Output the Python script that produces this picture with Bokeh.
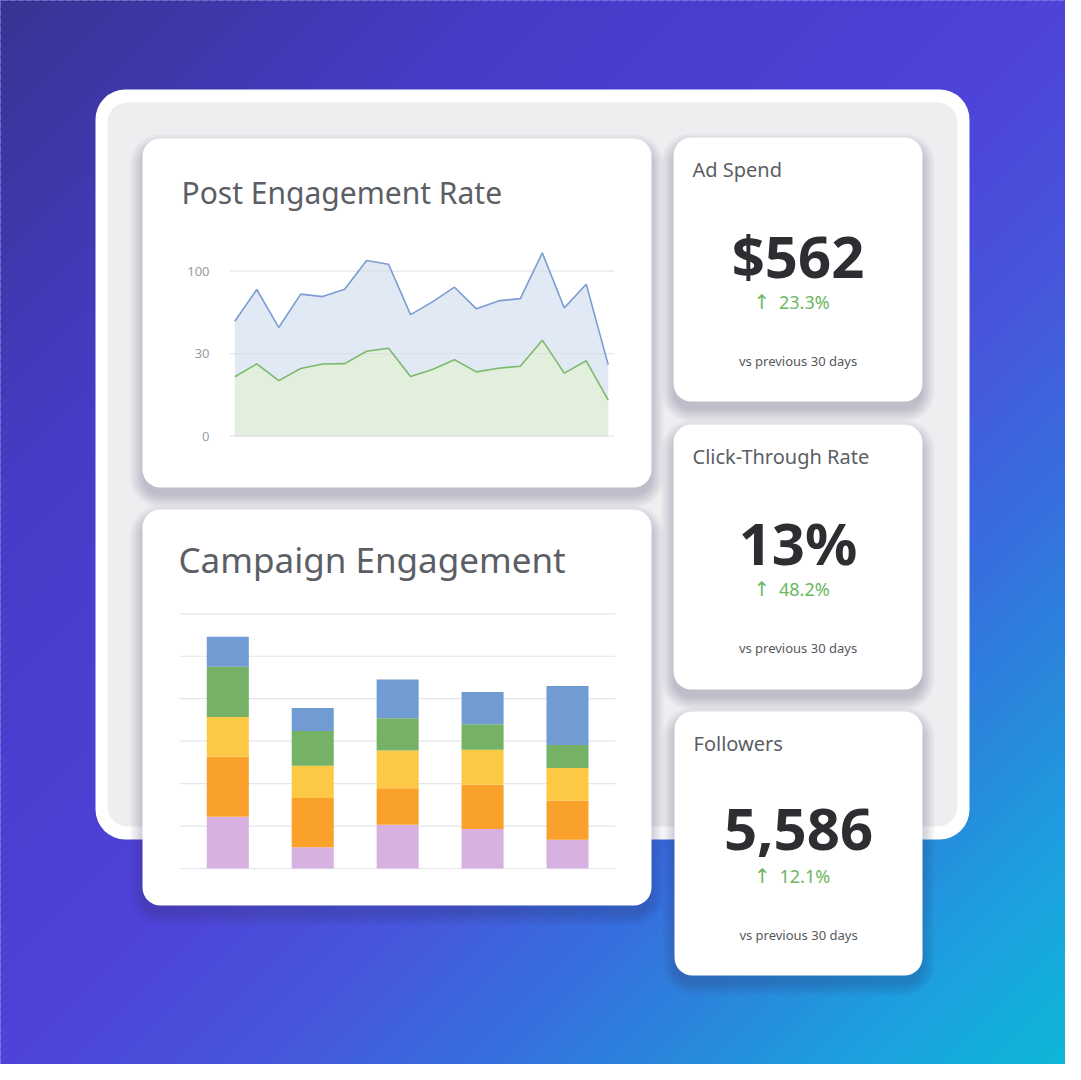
from bokeh.plotting import figure
from bokeh.models import Range1d, ColumnDataSource
from bokeh.core.properties import value
from bokeh.embed import file_html
from bokeh.resources import INLINE

# ---------------- data ----------------
LINE_DAYS = list(range(1, 19))
REACH = [69.7, 88.9, 65.9, 86.1, 84.6, 89.1, 106.5, 104.2, 73.7, 81.4,
         90.3, 77.2, 82.0, 83.4, 111.1, 77.8, 92.1, 43.4]
ENGAGED = [36.0, 43.8, 33.7, 41.0, 43.8, 44.0, 51.5, 53.3, 36.2, 40.4,
           46.3, 39.0, 41.2, 42.4, 58.2, 38.2, 45.7, 21.8]
LINE_TICKS = [0, 50, 100]
LINE_TICK_LABELS = ["0", "30", "100"]

CAMPAIGNS = ["Campaign 1", "Campaign 2", "Campaign 3", "Campaign 4", "Campaign 5"]
SEG_LILAC = [12.2, 5.0, 10.3, 9.3, 6.8]
SEG_ORANGE = [14.1, 11.6, 8.6, 10.4, 9.2]
SEG_YELLOW = [9.4, 7.6, 8.9, 8.3, 7.7]
SEG_GREEN = [11.8, 8.2, 7.6, 6.0, 5.4]
SEG_BLUE = [7.1, 5.4, 9.1, 7.6, 13.9]
BAR_TICKS = [0, 10, 20, 30, 40, 50, 60]

KPI_TITLES = ["Ad Spend", "Click-Through Rate", "Followers"]
KPI_VALUES = ["$562", "13%", "5,586"]
KPI_CHANGES = ["23.3%", "48.2%", "12.1%"]
KPI_ARROW = "\u2191"
KPI_NOTE = "vs previous 30 days"

TITLE_LINE = "Post Engagement Rate"
TITLE_BARS = "Campaign Engagement"

# ---------------- canvas ----------------
W, H, OFF = 1065, 1064, 8
FX0, FX1 = OFF, OFF + W      # frame in reference pixels
FY_BOT, FY_TOP = OFF + H, OFF

p = figure(width=W, height=H, x_range=Range1d(FX0, FX1), y_range=Range1d(FY_BOT, FY_TOP),
           output_backend="svg", toolbar_location=None, min_border=0,
           x_axis_location=None, y_axis_location=None)
p.grid.visible = False
p.outline_line_color = None
p.background_fill_color = "#4a42d6"
p.border_fill_color = "white"

FONT = value("Noto Sans")

# background diagonal gradient
STOPS = [(0.0, (55, 52, 145)), (0.25, (70, 60, 200)), (0.5, (78, 66, 216)),
         (0.63, (70, 88, 220)), (0.72, (55, 110, 222)), (0.80, (42, 133, 220)),
         (0.89, (29, 159, 224)), (1.0, (12, 184, 212))]


def grad(t):
    t = max(0.0, min(1.0, t))
    for (t0, c0), (t1, c1) in zip(STOPS[:-1], STOPS[1:]):
        if t <= t1:
            f = (t - t0) / (t1 - t0)
            return "#%02x%02x%02x" % tuple(int(round(a + (b - a) * f)) for a, b in zip(c0, c1))
    return "#%02x%02x%02x" % STOPS[-1][1]


bxs, bys, bcol = [], [], []
STEP = 8
for c in range(-16, 2200, STEP):
    bxs.append([c + 60, c + STEP + 60, c + STEP - 1160, c - 1160])
    bys.append([-60, -60, 1160, 1160])
    bcol.append(grad((c + STEP / 2) / 2160))
p.patches(bxs, bys, fill_color=bcol, line_color=bcol, line_width=1)

# outer container
p.quad(left=103, right=977, top=97, bottom=847, border_radius=30,
       fill_color="white", line_color=None)
p.quad(left=115, right=965, top=110, bottom=834, border_radius=20,
       fill_color="#eeeef0", line_color=None)


def card(l, t, r, b, radius=18):
    dy = 8
    for s in range(12, -1, -2):
        p.quad(left=l - s, right=r + s, top=t + dy - s, bottom=b + dy + s,
               border_radius=radius + s, fill_color="#2a2a5e", fill_alpha=0.04,
               line_color=None)
    p.quad(left=l, right=r, top=t, bottom=b, border_radius=radius,
           fill_color="white", line_color=None)


LINE_CARD = (150, 146, 659, 495)
BAR_CARD = (150, 517, 659, 913)
KPI_CARDS = [(681, 145, 930, 409), (681, 432, 930, 697), (682, 719, 930, 983)]

for c in [LINE_CARD, BAR_CARD] + KPI_CARDS:
    card(*c)


# helper: range such that pixel p0 -> v0 and p1 -> v1 across the frame
def inset_range(p0, v0, p1, v1, f_start, f_end):
    k = (v1 - v0) / (p1 - p0)
    return Range1d(start=v0 + (f_start - p0) * k, end=v0 + (f_end - p0) * k)


# ---------------- line chart ----------------
p.extra_x_ranges["lx"] = inset_range(242.3, LINE_DAYS[0], 615.7, LINE_DAYS[-1], FX0, FX1)
p.extra_y_ranges["ly"] = inset_range(443.7, 0, 278.7, 100, FY_BOT, FY_TOP)

lsrc = ColumnDataSource(dict(x=LINE_DAYS, reach=REACH, eng=ENGAGED))
p.varea(x="x", y1=0, y2="reach", source=lsrc, fill_color="#7c9fd4", fill_alpha=0.23,
        x_range_name="lx", y_range_name="ly")
p.varea(x="x", y1=0, y2="eng", source=lsrc, fill_color="#e2efdc", fill_alpha=1.0,
        x_range_name="lx", y_range_name="ly")
p.segment(x0=237, x1=622, y0=LINE_TICKS, y1=LINE_TICKS, line_color="#d5dbe6",
          line_alpha=0.7, line_width=1.2, y_range_name="ly")
p.line(x="x", y="reach", source=lsrc, line_color="#7b9dd2", line_width=1.6,
       x_range_name="lx", y_range_name="ly")
p.line(x="x", y="eng", source=lsrc, line_color="#7db96d", line_width=1.6,
       x_range_name="lx", y_range_name="ly")
p.text(x=[217] * len(LINE_TICKS), y=LINE_TICKS, text=LINE_TICK_LABELS, y_range_name="ly",
       text_font=FONT, text_font_size="13px", text_color="#9a9ca2",
       text_align="right", text_baseline="middle")
p.text(x=[189], y=[200], text=[TITLE_LINE], text_font=FONT, text_font_size="30px",
       text_color="#5b5e64", text_align="left", text_baseline="middle")

# ---------------- stacked bars ----------------
BAR_POS = list(range(len(CAMPAIGNS)))
p.extra_x_ranges["bx"] = inset_range(235.3, BAR_POS[0], 575.0, BAR_POS[-1], FX0, FX1)
p.extra_y_ranges["by"] = inset_range(876.0, 0, 621.3, 60, FY_BOT, FY_TOP)

p.segment(x0=187, x1=623, y0=BAR_TICKS, y1=BAR_TICKS, line_color="#e4e6ec",
          line_width=1.2, y_range_name="by")
bsrc = ColumnDataSource(dict(x=BAR_POS, lilac=SEG_LILAC, orange=SEG_ORANGE,
                             yellow=SEG_YELLOW, green=SEG_GREEN, blue=SEG_BLUE))
p.vbar_stack(["lilac", "orange", "yellow", "green", "blue"], x="x", width=0.495,
             fill_color=["#d7b1e0", "#f9a12a", "#fdc843", "#76b266", "#709bd3"],
             line_color=None, source=bsrc, x_range_name="bx", y_range_name="by")
p.text(x=[186], y=[567], text=[TITLE_BARS], text_font=FONT, text_font_size="35px",
       text_color="#5b5e64", text_align="left", text_baseline="middle")

# ---------------- KPI cards ----------------
tx, ty, cx, vy, chy, ny, ax, nx = [], [], [], [], [], [], [], []
for (l, t, r, b) in KPI_CARDS:
    tx.append(l + 19)
    ty.append(t + 32)
    cx.append((l + r) / 2)
    vy.append(t + 118)
    chy.append(t + 164)
    ny.append(t + 223)
    ax.append((l + r) / 2 - 36)
    nx.append((l + r) / 2 - 19)

p.text(x=tx, y=ty, text=KPI_TITLES, text_font=FONT, text_font_size="20px",
       text_color="#5b5e64", text_align="left", text_baseline="middle")
p.text(x=cx, y=vy, text=KPI_VALUES, text_font=FONT, text_font_size="58px",
       text_font_style="bold", text_color="#2c2e32", text_align="center",
       text_baseline="middle")
p.text(x=ax, y=chy, text=[KPI_ARROW] * 3, text_font=value("DejaVu Sans"),
       text_font_size="20px", text_color="#6cb760", text_align="center",
       text_baseline="middle")
p.text(x=nx, y=chy, text=KPI_CHANGES, text_font=FONT, text_font_size="18px",
       text_color="#6cb760", text_align="left", text_baseline="middle")
p.text(x=cx, y=ny, text=[KPI_NOTE] * 3, text_font=FONT, text_font_size="13px",
       text_color="#55585e", text_align="center", text_baseline="middle")

open("out.html", "w").write(file_html(p, INLINE))
